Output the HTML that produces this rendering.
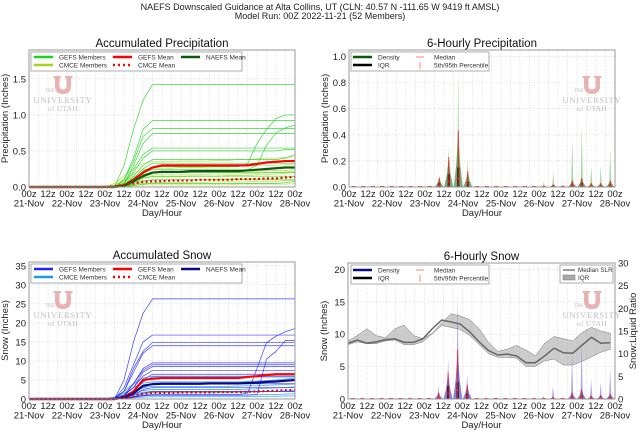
<!DOCTYPE html>
<html><head><meta charset="utf-8"><style>
body{margin:0;background:#fff}
svg{display:block;font-family:"Liberation Sans",sans-serif}
</style></head><body>
<svg id="chart" width="640" height="432" viewBox="0 0 640 432" xmlns="http://www.w3.org/2000/svg">
<text x="320" y="10" text-anchor="middle" font-size="9" fill="#222">NAEFS Downscaled Guidance at Alta Collins, UT (CLN: 40.57 N -111.65 W 9419 ft AMSL)</text>
<text x="320" y="19" text-anchor="middle" font-size="9" fill="#222">Model Run: 00Z 2022-11-21 (52 Members)</text>
</svg>
<script>
// ---------- data ----------
const dateLabels=["21-Nov","22-Nov","23-Nov","24-Nov","25-Nov","26-Nov","27-Nov","28-Nov"];
const hourLabels=["00z","12z"];
const precipTicks=[0,0.5,1.0,1.5];
const precipTickLabels=["0.0","0.5","1.0","1.5"];
const p6Ticks=[0,0.2,0.4,0.6,0.8,1.0];
const p6TickLabels=["0.0","0.2","0.4","0.6","0.8","1.0"];
const snowTicks=[0,5,10,15,20,25,30,35];
const s6Ticks=[0,5,10,15,20];
const slrTicks=[0,5,10,15,20,25,30];
const START=8; // member arrays start at step 8 (12 steps of 6h before)

const precipGefs=[
[0,0,.3,.8,1.2,1.42,1.42,1.42,1.42,1.42,1.42,1.42,1.42,1.42,1.42,1.42,1.42,1.42,1.42,1.42,1.42],
[0,0,.1,.4,.8,.92,.92,.92,.92,.92,.92,.92,.92,.92,.92,.92,.92,.92,.92,.92,.92],
[0,0,.1,.35,.7,.81,.81,.81,.81,.81,.81,.81,.81,.81,.81,.81,.81,.81,.81,.81,.81],
[0,0,.05,.3,.6,.74,.74,.74,.74,.74,.74,.74,.74,.74,.74,.74,.74,.74,.74,.74,.74],
[0,0,.05,.25,.45,.54,.54,.54,.54,.54,.54,.54,.54,.54,.54,.54,.54,.54,.54,.54,.54],
[0,0,.05,.2,.4,.5,.5,.5,.5,.5,.5,.5,.5,.5,.5,.5,.5,.5,.5,.52,.52],
[0,0,.02,.15,.3,.38,.38,.38,.38,.38,.38,.38,.38,.38,.38,.38,.38,.38,.38,.4,.45],
[0,0,.02,.1,.22,.28,.28,.28,.28,.28,.28,.28,.28,.28,.28,.32,.6,.8,.95,1.0,1.0],
[0,0,.02,.1,.2,.24,.24,.24,.24,.24,.24,.24,.24,.24,.24,.24,.3,.58,.75,.82,.86],
[0,0,.02,.08,.17,.2,.2,.2,.2,.2,.2,.2,.2,.2,.2,.2,.2,.2,.2,.2,.2],
[0,0,.01,.05,.12,.15,.15,.15,.15,.15,.15,.15,.15,.15,.15,.15,.15,.15,.15,.15,.15],
[0,0,.01,.03,.08,.1,.1,.1,.1,.1,.1,.1,.1,.1,.1,.1,.1,.1,.1,.1,.1],
[0,0,0,.02,.04,.05,.05,.05,.05,.05,.05,.05,.05,.05,.05,.05,.05,.05,.05,.06,.08],
[0,0,.02,.12,.25,.33,.33,.33,.33,.33,.33,.33,.33,.33,.33,.33,.33,.33,.33,.33,.33]];
const precipCmce=[
[0,.05,.15,.25,.33,.35,.35,.35,.36,.36,.36,.36,.37,.37,.38,.38,.39,.4,.4,.41,.42],
[0,.03,.1,.18,.24,.26,.26,.26,.27,.27,.27,.28,.28,.28,.29,.29,.3,.3,.3,.31,.31],
[0,.02,.08,.14,.18,.2,.2,.2,.2,.2,.21,.21,.21,.22,.22,.22,.22,.23,.23,.23,.24],
[0,.02,.05,.1,.13,.14,.14,.14,.14,.15,.15,.15,.15,.16,.16,.16,.17,.17,.18,.19,.2],
[0,.01,.04,.07,.09,.1,.1,.1,.1,.1,.1,.1,.11,.11,.11,.11,.12,.12,.12,.13,.14],
[0,.01,.02,.04,.05,.06,.06,.06,.06,.06,.06,.07,.07,.07,.07,.07,.08,.08,.08,.09,.09],
[0,0,.01,.02,.03,.03,.03,.03,.03,.03,.03,.03,.03,.03,.04,.04,.04,.04,.04,.04,.05],
[0,.02,.06,.12,.16,.17,.17,.17,.17,.17,.17,.18,.18,.18,.18,.19,.19,.2,.2,.21,.22]];
const precipGefsMean=[0,0,.02,.1,.2,.27,.3,.3,.3,.3,.3,.3,.3,.3,.3,.3,.32,.34,.35,.36,.36];
const precipNaefsMean=[0,0,.02,.08,.15,.2,.21,.21,.21,.22,.22,.22,.22,.22,.22,.23,.24,.25,.26,.27,.27];
const precipCmceMean=[0,.01,.03,.05,.07,.08,.08,.09,.09,.09,.1,.1,.1,.1,.11,.11,.11,.12,.12,.13,.14];

const snowGefs=[
[0,0,5,15,22.5,26.3,26.3,26.3,26.3,26.3,26.3,26.3,26.3,26.3,26.3,26.3,26.3,26.3,26.3,26.3,26.3],
[0,0,3,9,15,16.8,16.8,16.8,16.8,16.8,16.8,16.8,16.8,16.8,16.8,16.8,16.8,16.8,16.8,16.8,16.8],
[0,0,2,8,12.5,14.8,14.8,14.8,14.8,14.8,14.8,14.8,14.8,14.8,14.8,14.8,14.8,14.8,14.8,14.8,14.8],
[0,0,2,7,12,14,14,14,14,14,14,14,14,14,14,14,14,14,14,14,14],
[0,0,1,4,8,9.5,9.5,9.5,9.5,9.5,9.5,9.5,9.5,9.5,9.5,9.5,9.5,9.5,9.5,9.5,9.5],
[0,0,1,4,7.5,9,9,9,9,9,9,9,9,9,9,9,9,9,9,9,9],
[0,0,1,3,7,8.5,8.5,8.5,8.5,8.5,8.5,8.5,8.5,8.5,8.5,8.5,8.5,8.5,8.5,8.5,8.5],
[0,0,1,3,6,7.5,7.5,7.5,7.5,7.5,7.5,7.5,7.5,7.5,7.5,7.5,7.5,7.5,7.5,7.5,7.5],
[0,0,.2,.5,1,1.2,1.2,1.2,1.2,1.2,1.2,1.2,1.2,1.2,1.2,1.5,8,14.8,16.5,17.7,18.5],
[0,0,.2,.5,.8,1,1,1,1,1,1,1,1,1,1,1,1.2,10.5,12.5,15.4,15.4],
[0,0,.5,2,5,6.5,6.5,6.5,6.5,6.5,6.5,6.5,6.5,6.5,6.5,6.5,6.5,6.5,6.5,6.5,6.5],
[0,0,.5,2,4.5,5.8,5.8,5.8,5.8,5.8,5.8,5.8,5.8,5.8,5.8,5.8,5.8,5.8,5.8,5.8,5.8],
[0,0,.3,1.5,3,4,4,4,4,4,4,4,4,4,4,4,4,4,4,4,4],
[0,0,.2,1,2.5,3,3,3,3,3,3,3,3,3,3,3,3,3,3,3,3],
[0,0,.1,.5,1.5,2,2,2,2,2,2,2,2,2,2,2,2,2,2,2,2]];
const snowCmce=[
[0,.5,2,4,5.5,6,6,6,6,6,6,6,6,6,6,6,6,6,6,6,6],
[0,.3,1.5,3,4.2,4.5,4.5,4.5,4.5,4.5,4.5,4.5,4.5,4.5,4.5,4.6,4.7,4.8,5,5.2,5.5],
[0,.3,1,2,3,3.3,3.3,3.3,3.3,3.3,3.3,3.3,3.3,3.3,3.4,3.5,3.5,3.6,3.7,3.8,4],
[0,.2,.8,1.5,2.2,2.5,2.5,2.5,2.5,2.5,2.5,2.5,2.5,2.5,2.5,2.6,2.7,2.8,2.9,3,3.2],
[0,.1,.5,1,1.5,1.7,1.7,1.7,1.7,1.7,1.7,1.7,1.7,1.7,1.8,1.8,1.9,2,2,2.1,2.2],
[0,.1,.3,.6,.9,1,1,1,1,1,1,1,1,1,1,1.1,1.1,1.2,1.2,1.3,1.4],
[0,0,.1,.3,.5,.6,.6,.6,.6,.6,.6,.6,.6,.6,.6,.6,.7,.7,.7,.8,.8],
[0,.2,.7,1.3,1.8,2,2,2,2,2,2,2,2,2,2,2,2,2,2,2,2]];
const snowGefsMean=[0,0,.5,2,5,5.3,5.5,5.5,5.5,5.5,5.5,5.5,5.5,5.5,5.5,5.8,6,6.3,6.5,6.5,6.5];
const snowNaefsMean=[0,0,.4,1.5,3.5,3.9,4,4,4,4,4,4.1,4.1,4.1,4.1,4.2,4.3,4.5,4.6,4.8,5];
const snowCmceMean=[0,0,.3,.8,1.4,1.6,1.6,1.6,1.7,1.7,1.7,1.7,1.8,1.8,1.8,1.9,2,2.1,2.2,2.3,2.4];

// 6-hourly (28 periods)
const p6Max=[0,0,0,0,0,0,0,0,0,.1,.32,.9,.21,.01,.005,.005,0,0,.005,0,.04,.11,.02,.38,.47,.16,.16,.3];
const p6P95=[0,0,0,0,0,0,0,0,0,.07,.23,.43,.12,0,0,0,0,0,0,0,.01,.02,.01,.05,.07,.03,.03,.05];
const p6Iqr=[0,0,0,0,0,0,0,0,0,.03,.1,.15,.04,0,0,0,0,0,0,0,0,.01,0,.02,.03,.01,.01,.02];
const p6Med=[0,0,0,0,0,0,0,0,0,.01,.04,.06,.02,0,0,0,0,0,0,0,0,0,0,.01,.01,0,0,.01];
const s6Max=[0,0,0,0,0,0,0,0,0,1.9,6.4,16.1,3.8,0,0,0,0,0,0,0,.5,2.0,.3,6.8,8.7,3.0,2.6,4.7];
const s6P95=[0,0,0,0,0,0,0,0,0,1.0,4.1,7.6,2.2,0,0,0,0,0,0,0,.1,.3,.1,1.0,1.5,.5,.6,.8];
const s6Iqr=[0,0,0,0,0,0,0,0,0,.3,2.0,2.6,.8,0,0,0,0,0,0,0,0,.1,0,.3,.5,.2,.2,.3];
const s6Med=[0,0,0,0,0,0,0,0,0,.1,.8,1.3,.3,0,0,0,0,0,0,0,0,0,0,.1,.2,0,0,.1];
const slrMedian=[12.3,13.0,12.3,12.6,13.1,13.3,12.5,12.5,13.3,15.5,17.4,17.0,16.5,14.8,12.6,10.7,9.7,9.9,9.5,8.0,8.0,9.5,11.2,10.2,10.1,11.9,13.6,12.3,12.4];
const slrUpper=[12.8,14,15.5,14,13.5,15.5,16.3,14,13.3,14.5,16.8,18.8,18.3,17.5,15.5,12.5,10.5,11,11.8,10.8,9.5,12.3,13.8,13.3,12.8,14.7,15.8,15,14.5];
const slrLower=[12,12.6,12.2,12.2,12.8,13,12,12,12.6,14.4,16.2,15.8,15.3,14,12,10,9.2,9.2,9,7.2,7.2,8.4,8.8,7.5,7.5,8.3,9.3,10.3,11];

// ---------- drawing ----------
const NS='http://www.w3.org/2000/svg';
const svg=document.getElementById('chart');
function mk(tag,attrs,parent){const e=document.createElementNS(NS,tag);for(const k in attrs)e.setAttribute(k,attrs[k]);(parent||svg).appendChild(e);return e;}
function txt(s,attrs,parent){const e=mk('text',attrs,parent);e.textContent=s;return e;}

const P1={x0:29,x1:295,y0:50,y1:187,ymax:1.9,name:'accum-precip'};
const P2={x0:349,x1:615,y0:50,y1:187,ymax:1.05,name:'sixhr-precip'};
const P3={x0:29,x1:295,y0:262,y1:399,ymax:36,name:'accum-snow'};
const P4={x0:348,x1:615,y0:263,y1:399,ymax:21,y2max:30,name:'sixhr-snow'};
function X(p,s){return p.x0+s*(p.x1-p.x0)/28;}
function Y(p,v){return p.y1-v*(p.y1-p.y0)/p.ymax;}
function Y2(p,v){return p.y1-v*(p.y1-p.y0)/p.y2max;}

function frame(p,title,ylab,ticks,tickLabels){
  const g=mk('g',{});
  
  
  for(let s=0;s<=28;s++){
    const l=mk('line',{x1:X(p,s),x2:X(p,s),y1:p.y0,y2:p.y1,stroke:'#ccc','stroke-width':0.6,'stroke-dasharray':'1,1.5'},g);
    
    
  }
  ticks.forEach((t,i)=>{
    const y=Y(p,t);
    const l=mk('line',{x1:p.x0,x2:p.x1,y1:y,y2:y,stroke:'#ccc','stroke-width':0.6,'stroke-dasharray':'1,1.5'},g);
    
    
    const tl=txt(tickLabels?tickLabels[i]:String(t),{x:p.x0-3,y:y+3.5,'text-anchor':'end','font-size':9.5,fill:'#222'},g);
    
    
  });
  for(let k=0;k<=14;k++){
    const x=X(p,k*2);
    const t=txt(hourLabels[k%2],{x:x,y:p.y1+10,'text-anchor':'middle','font-size':9.5,fill:'#222'},g);
    
    
  }
  dateLabels.forEach((d,i)=>{
    const t=txt(d,{x:X(p,i*4),y:p.y1+19.5,'text-anchor':'middle','font-size':9.5,fill:'#222'},g);
    
    
  });
  const xl=txt('Day/Hour',{x:(p.x0+p.x1)/2,y:p.y1+29,'text-anchor':'middle','font-size':9.5,fill:'#222'},g);
  
  
  const yc=(p.y0+p.y1)/2, yx=p.x0-21;
  const yl=txt(ylab,{x:yx,y:yc,'text-anchor':'middle','font-size':9.5,fill:'#222',transform:`rotate(-90 ${yx} ${yc})`},g);
  
  
  const tt=txt(title,{x:(p.x0+p.x1)/2,y:p.y0-3,'text-anchor':'middle','font-size':11.5,fill:'#111'},g);
  
  
  return g;
}
function border(p){
  const r=mk('rect',{x:p.x0,y:p.y0,width:p.x1-p.x0,height:p.y1-p.y0,fill:'none',stroke:'#999','stroke-width':1});
  
  
}
function logo(cx,ty){
  const g=mk('g',{opacity:0.75});
  
  
  const u=mk('path',{d:`M${cx-9.5},${ty} h7.5 v2 h-1.5 v8 q0,3.5 3.5,3.5 q3.5,0 3.5,-3.5 v-8 h-1.5 v-2 h7.5 v2 h-1.5 v8 q0,8 -8,8 q-8,0 -8,-8 v-8 h-1.5 z`,fill:'#e39a9a'},g);
  
  
  const t1=txt('THE',{x:cx-13,y:ty+16,'font-size':5,'font-family':'Liberation Serif, serif',fill:'#aaa','text-anchor':'middle'},g);
  
  
  const t2=txt('UNIVERSITY',{x:cx,y:ty+27,'font-size':8.5,'font-family':'Liberation Serif, serif',fill:'#aaa','text-anchor':'middle','letter-spacing':0.8},g);
  
  
  const t3=txt('of UTAH',{x:cx,y:ty+35,'font-size':7,'font-family':'Liberation Serif, serif',fill:'#aaa','text-anchor':'middle','letter-spacing':0.5},g);
  
  
}
function series(p,arr,color,w,opacity,dash,name){
  const pts=arr.map((v,i)=>X(p,START+i).toFixed(2)+','+Y(p,Math.min(v,p.ymax)).toFixed(2));
  pts.unshift(X(p,0)+','+Y(p,0));
  const a={points:pts.join(' '),fill:'none',stroke:color,'stroke-width':w,'stroke-opacity':opacity,'stroke-linejoin':'round'};
  if(dash)a['stroke-dasharray']=dash;
  const l=mk('polyline',a);
  
  
}
function legendLine(g,x,y,color,w,label,dash,name){
  const a={x1:x,x2:x+19,y1:y,y2:y,stroke:color,'stroke-width':w};
  if(dash)a['stroke-dasharray']=dash;
  const l=mk('line',a,g);
  
  
  const t=txt(label,{x:x+25,y:y+2.3,'font-size':6.5,fill:'#333'},g);
  
  
}
function legendBox(x,y,w,h,name){
  const g=mk('g',{});
  
  
  const r=mk('rect',{x:x,y:y,width:w,height:h,fill:'#fff',stroke:'#999','stroke-width':0.8},g);
  
  
  return g;
}

// ----- Panel 1: Accumulated precipitation
frame(P1,'Accumulated Precipitation','Precipitation (Inches)',precipTicks,precipTickLabels);
logo(63,76);
precipCmce.forEach(m=>series(P1,m,'#a6d41c',0.8,0.7,null,'cmce-member-line'));
precipGefs.forEach(m=>series(P1,m,'#1bd41b',0.7,0.85,null,'gefs-member-line'));
series(P1,precipGefsMean,'#ff0000',2.2,1,null,'gefs-mean-line');
series(P1,precipNaefsMean,'#0b5a0b',2.2,1,null,'naefs-mean-line');
series(P1,precipCmceMean,'#ff0000',2.2,1,'2,2.5','cmce-mean-line');
border(P1);
{const g=legendBox(31,52,211,19,'precip-legend');
legendLine(g,34,57,'#1bd41b',2.5,'GEFS Members',null,'legend-gefs-members');
legendLine(g,34,65,'#a6d41c',2.5,'CMCE Members',null,'legend-cmce-members');
legendLine(g,113,57,'#ff0000',2.5,'GEFS Mean',null,'legend-gefs-mean');
legendLine(g,113,65,'#ff0000',2.5,'CMCE Mean','2,3','legend-cmce-mean');
legendLine(g,181,57,'#0b5a0b',2.5,'NAEFS Mean',null,'legend-naefs-mean');}

// ----- Panel 3: Accumulated snow
frame(P3,'Accumulated Snow','Snow (Inches)',snowTicks);
logo(63,291);
snowCmce.forEach(m=>series(P3,m,'#1e9ae8',0.9,0.75,null,'cmce-member-line'));
snowGefs.forEach(m=>series(P3,m,'#2222ff',0.7,0.85,null,'gefs-member-line'));
series(P3,snowGefsMean,'#ff0000',2.2,1,null,'gefs-mean-line');
series(P3,snowNaefsMean,'#0a0a80',2.2,1,null,'naefs-mean-line');
series(P3,snowCmceMean,'#ff0000',2.2,1,'2,2.5','cmce-mean-line');
border(P3);
{const g=legendBox(31,264,211,19,'snow-legend');
legendLine(g,34,269,'#2222ff',2.5,'GEFS Members',null,'legend-gefs-members');
legendLine(g,34,277,'#1e9ae8',2.5,'CMCE Members',null,'legend-cmce-members');
legendLine(g,113,269,'#ff0000',2.5,'GEFS Mean',null,'legend-gefs-mean');
legendLine(g,113,277,'#ff0000',2.5,'CMCE Mean','2,3','legend-cmce-mean');
legendLine(g,181,269,'#0a0a80',2.5,'NAEFS Mean',null,'legend-naefs-mean');}

// ----- violin-style 6-hourly
function violins(p,maxA,p95A,iqrA,medA,dens,spike,name){
  for(let i=0;i<maxA.length;i++){
    const cx=X(p,i+0.5), y0=p.y1;
    if(maxA[i]>0){
      const sp=mk('polygon',{points:`${cx-1.2},${y0} ${cx},${Y(p,maxA[i])} ${cx+1.2},${y0}`,fill:spike,'fill-opacity':0.6});
      
      
    }
    if(p95A[i]>0){
      const v=mk('polygon',{points:`${cx-4.5},${y0} ${cx-2},${Y(p,p95A[i]*0.4)} ${cx},${Y(p,p95A[i])} ${cx+2},${Y(p,p95A[i]*0.4)} ${cx+4.5},${y0}`,fill:dens,'fill-opacity':0.6});
      
      
    }
    if(iqrA[i]>0){
      const q=mk('line',{x1:cx,x2:cx,y1:y0,y2:Y(p,iqrA[i]),stroke:'#000','stroke-width':2});
      
      
    }
    if(p95A[i]>0){
      const r=mk('line',{x1:cx,x2:cx,y1:y0,y2:Y(p,p95A[i]),stroke:'#ff2020','stroke-width':0.9});
      
      
    }
    const m=mk('line',{x1:cx-2,x2:cx+2,y1:Y(p,medA[i])-0.5,y2:Y(p,medA[i])-0.5,stroke:'#ff3030','stroke-width':1});
    
    
  }
}
function violinLegend(x,y,dens,name){
  const g=legendBox(x,y,138,19,name);
  legendLine(g,x+2,y+5,dens,2.5,'Density',null,'legend-density');
  legendLine(g,x+2,y+13,'#000',2.5,'IQR',null,'legend-iqr');
  const m=mk('line',{x1:x+65,x2:x+73,y1:y+5,y2:y+5,stroke:'#ff8080','stroke-width':1},g);
  
  
  const mt=txt('Median',{x:x+83,y:y+7.3,'font-size':6.5,fill:'#333'},g);
  
  
  const pl=mk('line',{x1:x+69,x2:x+69,y1:y+10,y2:y+17,stroke:'#ff8080','stroke-width':1},g);
  
  
  const pt=txt('5th/95th Percentile',{x:x+83,y:y+15.3,'font-size':6.5,fill:'#333'},g);
  
  
}

// ----- Panel 2
frame(P2,'6-Hourly Precipitation','Precipitation (Inches)',p6Ticks,p6TickLabels);
logo(592,76);
violins(P2,p6Max,p6P95,p6Iqr,p6Med,'#1e7a1e','#6cc46c','precip6');
border(P2);
violinLegend(351,52,'#0b5a0b','precip6-legend');

// ----- Panel 4
frame(P4,'6-Hourly Snow','Snow (Inches)',s6Ticks);
logo(592,291);
{
  const up=slrUpper.map((v,i)=>X(P4,i*27.5/28)+','+Y2(P4,v));
  const lo=slrLower.map((v,i)=>X(P4,i*27.5/28)+','+Y2(P4,v)).reverse();
  const band=mk('polygon',{points:up.concat(lo).join(' '),fill:'#999','fill-opacity':0.5,stroke:'#777','stroke-width':0.5});
  
  
  const ml=mk('polyline',{points:slrMedian.map((v,i)=>X(P4,i*27.5/28)+','+Y2(P4,v)).join(' '),fill:'none',stroke:'#666','stroke-width':1.5});
  
  
}
violins(P4,s6Max,s6P95,s6Iqr,s6Med,'#3030c0','#7070e0','snow6');
border(P4);
slrTicks.forEach(t=>{
  const y=Y2(P4,t);
  const tl=txt(String(t),{x:P4.x1+3,y:y+3.5,'font-size':9.5,fill:'#222'});
  
  
});
{const yc=(P4.y0+P4.y1)/2, yx=P4.x1+21;
const r=txt('Snow:Liquid Ratio',{x:yx,y:yc,'text-anchor':'middle','font-size':9.5,fill:'#222',transform:`rotate(-90 ${yx} ${yc})`});

}
violinLegend(351,265,'#0a0a80','snow6-legend');
{const g=legendBox(560,265,53,18,'slr-legend');
const l=mk('line',{x1:563,x2:575,y1:270,y2:270,stroke:'#666','stroke-width':1.3},g);


const t=txt('Median SLR',{x:578,y:272,'font-size':6.3,fill:'#333'},g);


const r=mk('rect',{x:563,y:275,width:12,height:5,fill:'#aaa',stroke:'#777','stroke-width':0.5},g);


const t2=txt('IQR',{x:578,y:280,'font-size':6.3,fill:'#333'},g);

}
</script>
</body></html>
